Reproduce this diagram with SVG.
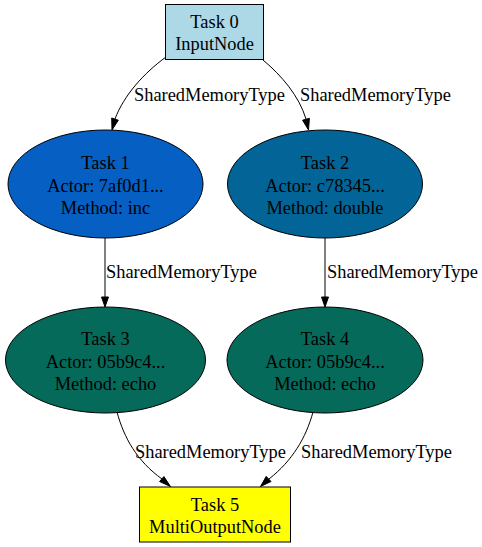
<svg xmlns="http://www.w3.org/2000/svg" width="482" height="547" viewBox="0 0 482 547">
<defs>
<style>
text{font-family:"Liberation Serif","Times New Roman",serif;font-size:18.4px;fill:#000}
.n text{text-anchor:middle}
.n rect,.n ellipse{stroke:#000;stroke-width:1}
.e path{fill:none;stroke:#000;stroke-width:1}
.e polygon{fill:#000;stroke:#000;stroke-width:1}
</style>
</defs>
<rect width="482" height="547" fill="#fff"/>
<g id="connectors" class="e">
<path d="M166,57 C144,73 124,95 115,119"/>
<polygon points="111.7,118 112,130 118.3,120.2"/>
<text x="134" y="101">SharedMemoryType</text>
<path d="M263,60 C282,76 299,96 306,119"/>
<polygon points="302.6,120.2 308.5,130 309.4,118.3"/>
<text x="300" y="101">SharedMemoryType</text>
<path d="M105,238 L105,297"/>
<polygon points="101.5,297 105,307 108.5,297"/>
<text x="106" y="278">SharedMemoryType</text>
<path d="M325,238 L325,297"/>
<polygon points="321.5,297 325,307 328.5,297"/>
<text x="327" y="278">SharedMemoryType</text>
<path d="M117,412 C124,438 137,461 162,479"/>
<polygon points="159.6,481.5 170.5,486.5 163.9,476.6"/>
<text x="135" y="458">SharedMemoryType</text>
<path d="M313,412 C306,438 292,461 269,479"/>
<polygon points="266.2,476.4 260.5,486.5 271,481.5"/>
<text x="301" y="458">SharedMemoryType</text>
</g>
<g id="node0" class="n">
<rect x="165.5" y="4.5" width="98" height="55" fill="#add8e6"/>
<text x="214.5" y="28">Task 0</text>
<text x="214.5" y="50">InputNode</text>
</g>
<g id="node1" class="n">
<ellipse cx="105.5" cy="184" rx="97.5" ry="54" fill="#065fc3"/>
<text x="105.5" y="169">Task 1</text>
<text x="105.5" y="191.5">Actor: 7af0d1...</text>
<text x="105.5" y="214">Method: inc</text>
</g>
<g id="node2" class="n">
<ellipse cx="325" cy="184" rx="97.5" ry="54" fill="#036597"/>
<text x="325" y="169">Task 2</text>
<text x="325" y="191.5">Actor: c78345...</text>
<text x="325" y="214">Method: double</text>
</g>
<g id="node3" class="n">
<ellipse cx="105.5" cy="360" rx="100" ry="53" fill="#066a5a"/>
<text x="105.5" y="345">Task 3</text>
<text x="105.5" y="367.5">Actor: 05b9c4...</text>
<text x="105.5" y="390">Method: echo</text>
</g>
<g id="node4" class="n">
<ellipse cx="325" cy="360" rx="98" ry="53" fill="#066a5a"/>
<text x="325" y="345">Task 4</text>
<text x="325" y="367.5">Actor: 05b9c4...</text>
<text x="325" y="390">Method: echo</text>
</g>
<g id="node5" class="n">
<rect x="139.5" y="487" width="151" height="55" fill="#ffff00"/>
<text x="215" y="511">Task 5</text>
<text x="215" y="533">MultiOutputNode</text>
</g>
</svg>
